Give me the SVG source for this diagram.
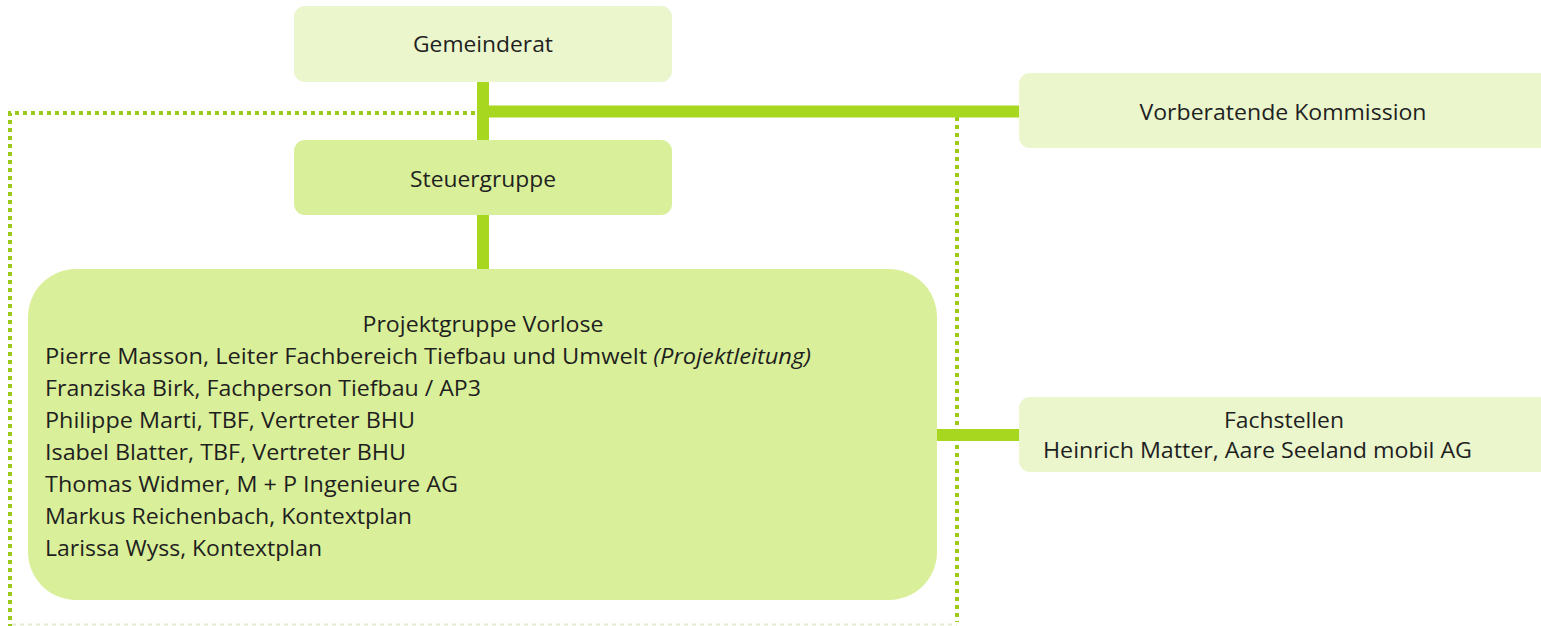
<svg xmlns="http://www.w3.org/2000/svg" width="1541" height="626" viewBox="0 0 1541 626">
<style>
.light{fill:#ebf6cd;}
.dark{fill:#daef9a;}
.t{font-family:"Open Sans","Noto Sans",sans-serif;font-size:22px;fill:#1f1f1f;}
.c{text-anchor:middle;}
.link{stroke:#a7d81f;stroke-width:12;fill:none;}
.dot{stroke:#9cca1c;stroke-width:4;stroke-dasharray:4 4;fill:none;}
</style>
<rect width="1541" height="626" fill="#ffffff"/>
<g id="boundary">
<path class="dot" d="M475 113 H10 V626"/>
<path class="dot" d="M957 117 V622"/>
<path d="M12 624.5 H957" stroke="#e3ebcd" stroke-width="2" stroke-dasharray="4 4" fill="none"/>
</g>
<g id="connectors">
<path class="link" d="M483 82 V140"/>
<path class="link" d="M483 111.5 H1020"/>
<path class="link" d="M483 215 V269"/>
<path class="link" d="M937 435 H1020"/>
</g>
<g id="gemeinderat">
<rect class="light" x="294" y="6" width="378" height="76" rx="11"/>
<text class="t c" x="483" y="52" textLength="140" lengthAdjust="spacingAndGlyphs">Gemeinderat</text>
</g>
<g id="steuergruppe">
<rect class="dark" x="294" y="140" width="378" height="75" rx="11"/>
<text class="t c" x="483" y="187" textLength="146" lengthAdjust="spacingAndGlyphs">Steuergruppe</text>
</g>
<g id="kommission">
<rect class="light" x="1019" y="73" width="540" height="75" rx="11"/>
<text class="t c" x="1283" y="120" textLength="287" lengthAdjust="spacingAndGlyphs">Vorberatende Kommission</text>
</g>
<g id="fachstellen">
<rect class="light" x="1019" y="397" width="540" height="75" rx="11"/>
<text class="t c" x="1284" y="428" textLength="120" lengthAdjust="spacingAndGlyphs">Fachstellen</text>
<text class="t" x="1043" y="458" textLength="429" lengthAdjust="spacingAndGlyphs">Heinrich Matter, Aare Seeland mobil AG</text>
</g>
<g id="projektgruppe">
<rect class="dark" x="28" y="269" width="909" height="331" rx="48"/>
<text class="t c" x="483" y="332" textLength="241" lengthAdjust="spacingAndGlyphs">Projektgruppe Vorlose</text>
<text class="t" x="45" y="364" textLength="766" lengthAdjust="spacingAndGlyphs">Pierre Masson, Leiter Fachbereich Tiefbau und Umwelt <tspan font-style="italic">(Projektleitung)</tspan></text>
<text class="t" x="45" y="396" textLength="436" lengthAdjust="spacingAndGlyphs">Franziska Birk, Fachperson Tiefbau / AP3</text>
<text class="t" x="45" y="428" textLength="370" lengthAdjust="spacingAndGlyphs">Philippe Marti, TBF, Vertreter BHU</text>
<text class="t" x="45" y="460" textLength="361" lengthAdjust="spacingAndGlyphs">Isabel Blatter, TBF, Vertreter BHU</text>
<text class="t" x="45" y="492" textLength="413" lengthAdjust="spacingAndGlyphs">Thomas Widmer, M + P Ingenieure AG</text>
<text class="t" x="45" y="524" textLength="367" lengthAdjust="spacingAndGlyphs">Markus Reichenbach, Kontextplan</text>
<text class="t" x="45" y="556" textLength="277" lengthAdjust="spacingAndGlyphs">Larissa Wyss, Kontextplan</text>
</g>
</svg>
